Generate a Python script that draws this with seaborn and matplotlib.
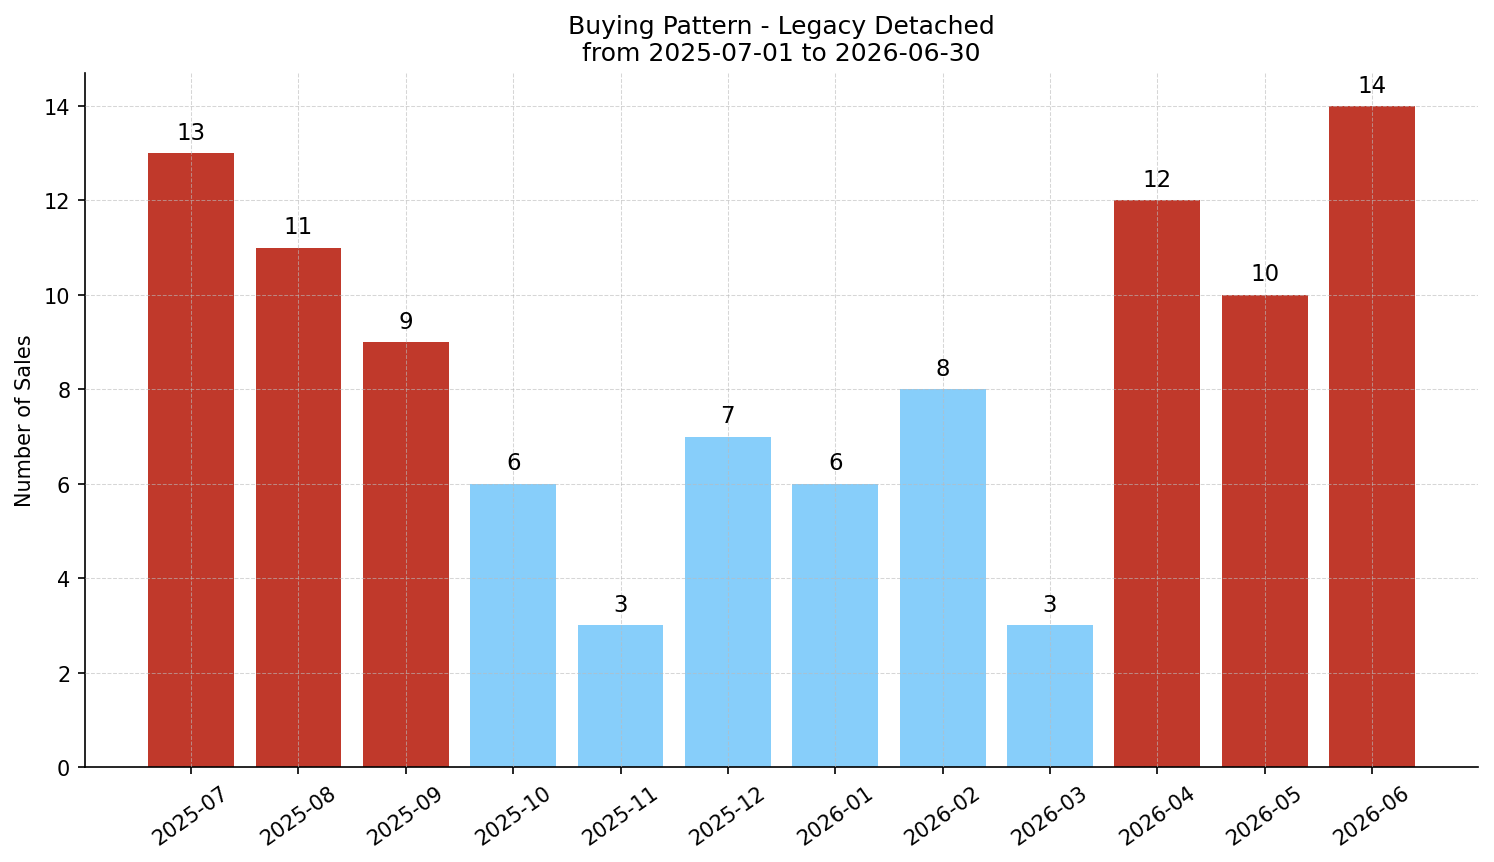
import matplotlib
matplotlib.use('Agg')
import seaborn as sns
import pandas as pd
import numpy as np
import matplotlib.pyplot as plt

months = ["2025-07", "2025-08", "2025-09", "2025-10", "2025-11", "2025-12",
          "2026-01", "2026-02", "2026-03", "2026-04", "2026-05", "2026-06"]
sales = [13, 11, 9, 6, 3, 7, 6, 8, 3, 12, 10, 14]

HIGH = "#c0392b"
LOW = "#87cefa"


def main():
    plt.rcParams['font.family'] = ['DejaVu Sans']

    df = pd.DataFrame({"month": months, "sales": sales})
    avg = np.mean(sales)
    palette = {m: (HIGH if s > avg else LOW) for m, s in zip(months, sales)}

    fig, ax = plt.subplots(figsize=(9.96, 5.753), dpi=150)
    fig.subplots_adjust(left=0.0568, right=0.9895, bottom=0.1100, top=0.9143)

    sns.barplot(data=df, x="month", y="sales", hue="month", palette=palette,
                legend=False, width=0.8, saturation=1, linewidth=0, ax=ax)

    for i, s in enumerate(sales):
        ax.text(i, s + 0.2, str(s), ha="center", va="bottom", fontsize=11, color="black")

    ax.set_xlim(-0.99, 11.99)
    ax.set_ylim(0, 14.7)
    ax.grid(True, linestyle="--", linewidth=0.5, color="#bbbbbb", alpha=0.6)
    ax.set_axisbelow(False)
    sns.despine(ax=ax)

    ax.set_xlabel("")
    ax.set_ylabel("Number of Sales", fontsize=10)
    ax.set_title("Buying Pattern - Legacy Detached\nfrom 2025-07-01 to 2026-06-30", fontsize=12)
    ax.tick_params(axis="both", labelsize=10)
    plt.setp(ax.get_xticklabels(), rotation=35, ha="center")

    plt.savefig("out.png", dpi=150)
    plt.close()


if __name__ == "__main__":
    main()
